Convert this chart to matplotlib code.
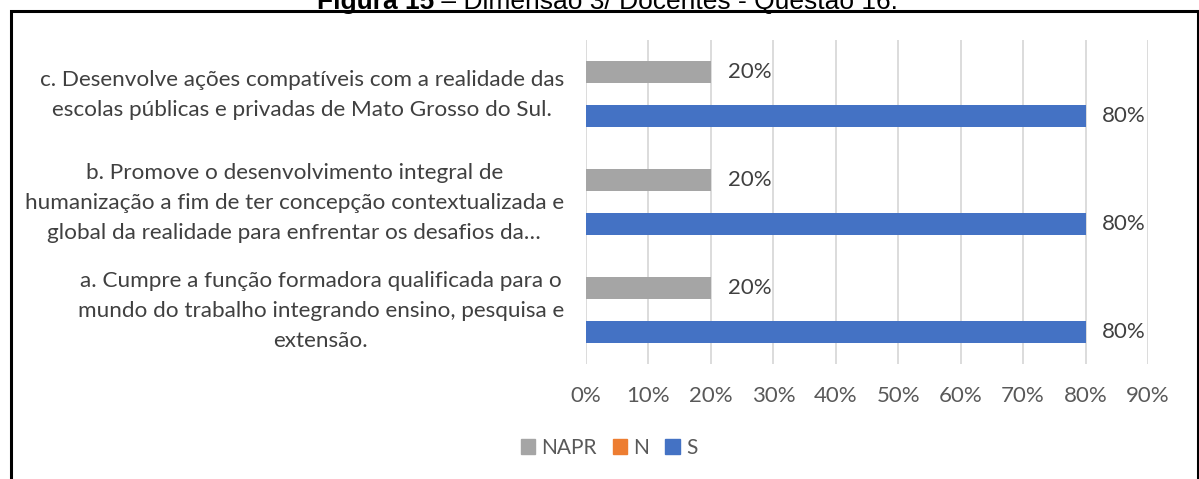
import matplotlib
matplotlib.use('Agg')
import matplotlib.pyplot as plt
import numpy as np
from matplotlib.patches import Rectangle, Patch

# dados do gráfico
categorias = [
    'a. Cumpre a função formadora qualificada para o\nmundo do trabalho integrando ensino, pesquisa e\nextensão.',
    'b. Promove o desenvolvimento integral de\nhumanização a fim de ter concepção contextualizada e\nglobal da realidade para enfrentar os desafios da…',
    'c. Desenvolve ações compatíveis com a realidade das\nescolas públicas e privadas de Mato Grosso do Sul.',
]
napr = [0.20, 0.20, 0.20]
n = [0.0, 0.0, 0.0]
s = [0.80, 0.80, 0.80]
series = ['NAPR', 'N', 'S']
cores = ['#A5A5A5', '#ED7D31', '#4472C4']
xticks = [0, 0.1, 0.2, 0.3, 0.4, 0.5, 0.6, 0.7, 0.8, 0.9]

plt.rcParams['font.family'] = ['Lato', 'DejaVu Sans']

W, H = 1199, 479
fig = plt.figure(figsize=(W / 100, H / 100), dpi=100)
ax = fig.add_axes([586 / W, 1 - 364 / H, (1148 - 586) / W, (364 - 40) / H])

y = np.arange(len(categorias))
h = 0.204
off = 0.208
b_s = ax.barh(y - off, s, height=h, color=cores[2], linewidth=0)
b_n = ax.barh(y, n, height=h, color=cores[1], linewidth=0)
b_napr = ax.barh(y + off, napr, height=h, color=cores[0], linewidth=0)

for bars, vals in [(b_s, s), (b_napr, napr)]:
    ax.bar_label(bars, labels=['%d%%' % round(v * 100) for v in vals],
                 padding=12, fontsize=16, color='#404040')

ax.set_xlim(0, 0.9)
ax.set_ylim(-0.5, 2.5)
ax.set_xticks(xticks)
ax.set_xticklabels(['%d%%' % round(v * 100) for v in xticks], fontsize=16, color='#595959')
# rótulos um pouco acima do centro, como no Excel
ax.set_yticks(y + 0.055)
ax.set_yticklabels(categorias, fontsize=16.2, color='#404040', multialignment='center',
                   linespacing=1.62)
ax.tick_params(length=0)
ax.tick_params(axis='x', pad=16)
ax.tick_params(axis='y', pad=16)
ax.grid(axis='x', color='#D9D9D9', linewidth=1.3)
ax.set_axisbelow(True)
for sp in ax.spines.values():
    sp.set_visible(False)

handles = [Patch(color=c, label=l) for c, l in zip(cores, series)]
fig.legend(handles=handles, loc='center', bbox_to_anchor=(609 / W, 1 - 448 / H), ncol=3,
           frameon=False, fontsize=15, handlelength=0.7, handleheight=0.7,
           handletextpad=0.3, columnspacing=0.75, labelcolor='#595959')

# moldura
fig.add_artist(Rectangle((11 / W, -0.1), (1198 - 11) / W, 1.1 - 11 / H,
                         transform=fig.transFigure, fill=False, edgecolor='black',
                         linewidth=2.2))

# título (cortado no topo, como no original)
t1 = fig.text(317 / W, 1 - 9 / H, 'Figura 15', fontsize=19, fontweight='bold',
              family='Liberation Sans', va='baseline', ha='left')
fig.canvas.draw()
bb = t1.get_window_extent()
fig.text(bb.x1 / W, 1 - 9 / H, ' – Dimensão 3/ Docentes - Questão 16.', fontsize=19,
         family='Liberation Sans', va='baseline', ha='left')

fig.savefig('out.png', dpi=100)
